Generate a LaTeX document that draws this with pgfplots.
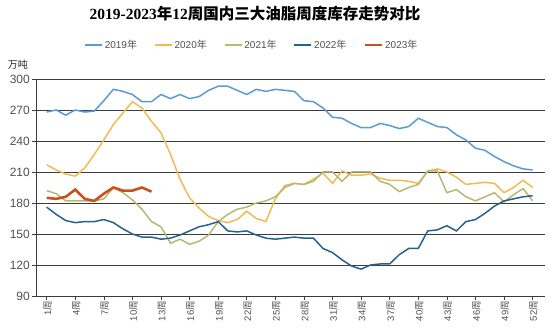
\documentclass[border=0pt]{standalone}
\usepackage{fontspec}
\setmainfont{Liberation Sans}
\newfontfamily\cjk{Noto Sans CJK SC}
\newfontfamily\tser{Liberation Serif}
\usepackage{pgfplots}
\usepackage{pgfplotstable}
\pgfplotsset{compat=1.18}
\definecolor{cA}{RGB}{91,155,213}
\definecolor{cB}{RGB}{242,186,82}
\definecolor{cC}{RGB}{182,186,112}
\definecolor{cD}{RGB}{36,98,143}
\definecolor{cE}{RGB}{200,82,30}
\definecolor{gridc}{RGB}{60,60,60}
\definecolor{txtc}{RGB}{80,80,80}

\pgfplotstableread{
w  a    b    c    d
1  268  217  192  176
2  270  212  189  169
3  265  208  182  163
4  270  206  182  161
5  268  214  182  162
6  269  227  182  162
7  279  241  184  164
8  290  256  195  161
9  288  267  190  155
10 285  278  183  150
11 278  272  174  147
12 278  259  162  147
13 285  248  157  145
14 281  227  141  146
15 285  203  145  149
16 281  185  140  153
17 283  175  143  157
18 289  167  149  159
19 293  163  162  162
20 293  161  169  153
21 289  164  174  152
22 285  172  176  153
23 290  165  180  149
24 288  162  182  146
25 290  184  186  145
26 289  197  195  146
27 288  199  199  147
28 279  198  198  146
29 278  203  201  146
30 272  209  210  136
31 263  199  210  132
32 262  211  201  125
33 257  207  210  119
34 253  207  210  116
35 253  208  210  120
36 257  204  201  121
37 255  202  198  121
38 252  202  191  130
39 254  201  195  136
40 262  199  198  136
41 258  211  211  153
42 254  213  211  154
43 253  210  190  158
44 246  205  193  153
45 241  198  186  162
46 233  199  182  164
47 231  200  186  170
48 225  199  190  177
49 220  190  181  182
50 216  195  188  184
51 213  202  194  186
52 212  195  182  187
}\datatable

\begin{document}
\begin{tikzpicture}
\begin{axis}[
  at={(0,0)}, anchor=south west,
  scale only axis, width=509pt, height=217pt,
  xmin=-0.12, xmax=53.3, ymin=90, ymax=300,
  ytick={90,120,...,300},
  xtick={1,4,...,52},
  xticklabels={1{\cjk 周},4{\cjk 周},7{\cjk 周},10{\cjk 周},13{\cjk 周},16{\cjk 周},19{\cjk 周},22{\cjk 周},25{\cjk 周},28{\cjk 周},31{\cjk 周},34{\cjk 周},37{\cjk 周},40{\cjk 周},43{\cjk 周},46{\cjk 周},49{\cjk 周},52{\cjk 周}},
  xticklabel style={rotate=90, anchor=east, font=\fontsize{9.5}{10}\selectfont, text=txtc, inner sep=1pt, yshift=-1pt},
  yticklabel style={font=\fontsize{12}{12}\selectfont, text=txtc, inner sep=2pt},
  /pgf/number format/assume math mode=true,
  axis x line*=bottom, axis y line*=left,
  axis line style={gridc, line width=0.9pt},
  ymajorgrids, grid style={gridc, line width=0.9pt},
  tick align=outside, major tick length=4pt,
  tick style={gridc, line width=0.6pt},
  legend columns=5,
  legend style={draw=none, fill=none, at={(0.424,1.157)}, anchor=center,
    font=\fontsize{10}{10}\selectfont, text=txtc,
    /tikz/every even column/.append style={column sep=15pt}},
  legend image code/.code={\draw[#1] (0cm,0cm) -- (0.6cm,0cm);},
]
\addplot[cA, line width=1.5pt] table[x=w,y=a]{\datatable};
\addlegendentry{2019{\cjk 年}}
\addplot[cB, line width=1.5pt] table[x=w,y=b]{\datatable};
\addlegendentry{2020{\cjk 年}}
\addplot[cC, line width=1.5pt] table[x=w,y=c]{\datatable};
\addlegendentry{2021{\cjk 年}}
\addplot[cD, line width=1.5pt] table[x=w,y=d]{\datatable};
\addlegendentry{2022{\cjk 年}}
\addplot[cE, line width=2.6pt] coordinates {
(1,185) (2,184) (3,186) (4,193) (5,184) (6,182) (7,189) (8,195) (9,192) (10,192) (11,195) (12,191)};
\addlegendentry{2023{\cjk 年}}
\end{axis}
\node[font=\bfseries\fontsize{15.5}{16}\selectfont] at (219pt,282pt)
  {{\tser 2019-2023}{\cjk 年}{\tser 12}{\cjk 周国内三大油脂周度库存走势对比}};
\node[font=\fontsize{10}{10}\selectfont\cjk, text=black!85] at (-18pt,231pt) {万吨};
\pgfresetboundingbox
\path[use as bounding box] (-36pt,-33pt) rectangle (514pt,296pt);
\end{tikzpicture}
\end{document}
